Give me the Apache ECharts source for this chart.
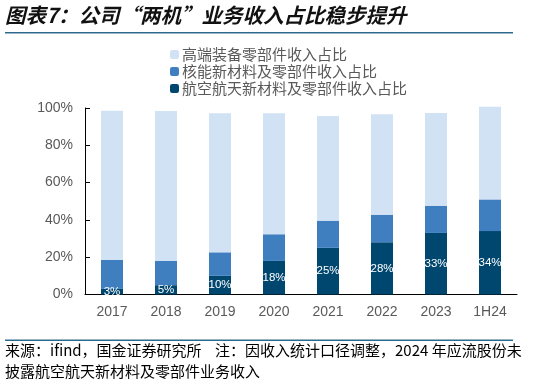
<!DOCTYPE html>
<html>
<head>
<meta charset="utf-8">
<script src="https://cdn.jsdelivr.net/npm/echarts@6/dist/echarts.min.js"></script>
<style>
html,body{margin:0;padding:0;background:#fff;}
#chart{width:541px;height:385px;}
</style>
</head>
<body>
<div id="chart"></div>
<script>
var categories = ['2017','2018','2019','2020','2021','2022','2023','1H24'];
var aeroShare = [3, 5, 10, 18, 25, 28, 33, 34];
var nuclearShare = [15.5, 13, 12.6, 14.3, 14.6, 14.8, 14.6, 17];
var equipShare = [80, 80.4, 74.6, 64.9, 56.1, 53.8, 49.7, 49.7];
var yTicks = [0, 20, 40, 60, 80, 100];
var seriesNames = ['航空航天新材料及零部件收入占比', '核能新材料及零部件收入占比', '高端装备零部件收入占比'];

var gray = '#595959';
var font = '"Liberation Sans", Arial, sans-serif';
var chart = echarts.init(document.getElementById('chart'));
chart.setOption({
  animation: false,
  textStyle: {fontFamily: font},
  grid: {left: 85, right: 24, top: 108, bottom: 90.5, containLabel: false},
  legend: {
    orient: 'vertical', left: 165, top: 42,
    itemWidth: 9, itemHeight: 9, itemGap: 2,
    data: [seriesNames[2], seriesNames[1], seriesNames[0]],
    textStyle: {color: gray, fontSize: 15, fontFamily: '"Noto Sans CJK SC", sans-serif', padding: [0,0,0,-2]}
  },
  xAxis: {
    type: 'category', data: categories,
    axisLine: {lineStyle: {color: '#000', width: 1}},
    axisTick: {inside: true, length: 5, lineStyle: {color: '#000'}},
    axisLabel: {color: gray, fontSize: 14, margin: 11}
  },
  yAxis: {
    type: 'value', min: 0, max: 100, interval: 20,
    axisLine: {show: true, lineStyle: {color: '#000', width: 1}},
    axisTick: {show: true, inside: true, length: 5, lineStyle: {color: '#000'}},
    splitLine: {show: false},
    axisLabel: {color: gray, fontSize: 14, margin: 12, formatter: function(v){ return yTicks.indexOf(v) >= 0 ? v + '%' : ''; }}
  },
  series: [
    {name: seriesNames[0], type: 'bar', stack: 's', data: aeroShare, barWidth: 22, clip: false,
     itemStyle: {color: '#00476F'},
     label: {show: true, position: 'inside', color: '#fff', fontSize: 11.5, formatter: '{c}%'}},
    {name: seriesNames[1], type: 'bar', stack: 's', data: nuclearShare, barWidth: 22, clip: false,
     itemStyle: {color: '#3F7FC0'}},
    {name: seriesNames[2], type: 'bar', stack: 's', data: equipShare, barWidth: 22, clip: false,
     itemStyle: {color: '#D0E2F3'}}
  ],
  graphic: [
    {type: 'text', left: 5, top: 5, style: {text: '图表7：公司“两机”业务收入占比稳步提升', fill: '#111', font: 'italic bold 20.5px "Noto Sans CJK SC", sans-serif'}},
    {type: 'rect', shape: {x: 5, y: 32, width: 508, height: 1.5}, style: {fill: '#2E6A8E'}},
    {type: 'rect', shape: {x: 5, y: 339.5, width: 508, height: 1.5}, style: {fill: '#2E6A8E'}},
    {type: 'text', left: 5, top: 343, style: {text: '来源：ifind，国金证券研究所    注：因收入统计口径调整，2024 年应流股份未', fill: '#000', font: '15px "Noto Sans CJK SC", sans-serif'}},
    {type: 'text', left: 5, top: 364, style: {text: '披露航空航天新材料及零部件业务收入', fill: '#000', font: '15px "Noto Sans CJK SC", sans-serif'}}
  ]
});
</script>
</body>
</html>
